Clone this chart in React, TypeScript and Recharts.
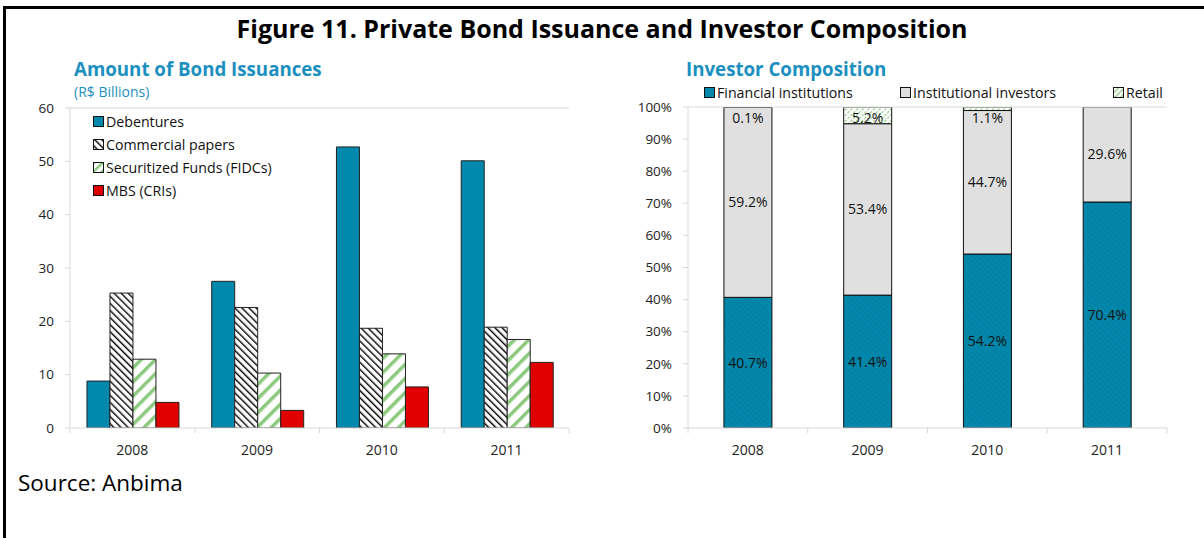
import React from 'react'
import { BarChart, Bar, XAxis, YAxis, Legend, ReferenceLine, LabelList } from 'recharts'

// Amount of bond issuances, R$ billions
const years = ['2008', '2009', '2010', '2011']
const debentures = [8.8, 27.5, 52.7, 50.1]
const commercialPapers = [25.3, 22.6, 18.7, 18.9]
const fidcs = [12.9, 10.3, 13.9, 16.6]
const mbs = [4.8, 3.3, 7.7, 12.3]
const issuanceTicks = [0, 10, 20, 30, 40, 50, 60]

// Investor composition, % of total
const financialInst = [40.7, 41.4, 54.2, 70.4]
const institutionalInv = [59.2, 53.4, 44.7, 29.6]
const retail = [0.1, 5.2, 1.1, 0.1]
const shareTicks = [0, 10, 20, 30, 40, 50, 60, 70, 80, 90, 100]

const FONT = '"Open Sans", "Noto Sans", sans-serif'
const TEAL = '#0088ad'
const TITLE_TEAL = '#1a8fc0'
const RED = '#e00000'
const GREEN = '#8cc97e'
const GRAY = '#e0e0e0'
const AXIS = '#d9d9d9'
const TEXT = '#222'

const issuanceData = years.map((y, i) => ({
  year: y,
  deb: debentures[i],
  cp: commercialPapers[i],
  fidc: fidcs[i],
  mbs: mbs[i],
}))

const shareData = years.map((y, i) => ({
  year: y,
  fin: financialInst[i],
  inst: institutionalInv[i],
  retail: retail[i],
}))

function CatTick(props: any) {
  const { x, y, payload, index, visibleTicksCount } = props
  const off = payload.offset || 0
  const last = index === visibleTicksCount - 1
  return (
    <g>
      <line x1={x - off} x2={x - off} y1={y} y2={y + 5} stroke={AXIS} />
      {last && <line x1={x + off} x2={x + off} y1={y} y2={y + 5} stroke={AXIS} />}
      <text x={x} y={y + 21} textAnchor="middle" dominantBaseline="central" fontSize={14} fill={TEXT} fontFamily={FONT}>
        {payload.value}
      </text>
    </g>
  )
}

const issuanceLegend = [
  { label: 'Debentures', fill: TEAL },
  { label: 'Commercial papers', fill: 'url(#cpHatch)' },
  { label: 'Securitized Funds (FIDCs)', fill: 'url(#fidcHatchSmall)' },
  { label: 'MBS (CRIs)', fill: RED },
]

function IssuanceLegend() {
  return (
    <div style={{ fontFamily: FONT, fontSize: 14.2, color: '#111' }}>
      {issuanceLegend.map(item => (
        <div key={item.label} style={{ display: 'flex', alignItems: 'center', height: 23 }}>
          <svg width={11} height={11} style={{ marginRight: 2 }}>
            <rect x={0.5} y={0.5} width={10} height={10} fill={item.fill} stroke="#111" />
          </svg>
          <span>{item.label}</span>
        </div>
      ))}
    </div>
  )
}

const shareLegend = [
  { label: 'Financial institutions', fill: TEAL, left: 104 },
  { label: 'Institutional investors', fill: GRAY, left: 300 },
  { label: 'Retail', fill: 'url(#retailHatchSmall)', left: 513 },
]

function ShareLegend() {
  return (
    <div style={{ position: 'relative', height: 20, width: 580, fontFamily: FONT, fontSize: 14.2, color: '#111' }}>
      {shareLegend.map(item => (
        <div key={item.label} style={{ position: 'absolute', left: item.left, top: 0, display: 'flex', alignItems: 'center', height: 20 }}>
          <svg width={11} height={11} style={{ marginRight: 2 }}>
            <rect x={0.5} y={0.5} width={10} height={10} fill={item.fill} stroke="#111" />
          </svg>
          <span>{item.label}</span>
        </div>
      ))}
    </div>
  )
}

function RetailLabel(props: any) {
  const { x, y, width, height, value } = props
  const cy = y + Math.max(height / 2, 10)
  return (
    <text x={x + width / 2} y={cy} textAnchor="middle" dominantBaseline="central" fontSize={14} fill="#111" fontFamily={FONT}>
      {Number(value).toFixed(1)}%
    </text>
  )
}

const pct = (v: any) => `${Number(v).toFixed(1)}%`

export default function App() {
  return (
    <div style={{ position: 'absolute', left: 0, top: 0, width: 1204, height: 538, background: '#fff', overflow: 'hidden', fontFamily: FONT }}>
      <svg width={0} height={0} style={{ position: 'absolute' }}>
        <defs>
          <pattern id="fidcHatchSmall" width="6" height="6" patternUnits="userSpaceOnUse" patternTransform="rotate(45)">
            <rect width="6" height="6" fill="#fff" />
            <rect width="2.5" height="6" fill={GREEN} />
          </pattern>
          <pattern id="retailHatchSmall" width="4" height="4" patternUnits="userSpaceOnUse" patternTransform="rotate(45)">
            <rect width="4" height="4" fill="#fff" />
            <rect width="1.2" height="4" fill={GREEN} />
          </pattern>
        </defs>
      </svg>

      <div style={{ position: 'absolute', left: 3, top: 6, width: 1201, height: 3, background: '#000' }} />
      <div style={{ position: 'absolute', left: 3, top: 6, width: 3, height: 532, background: '#000' }} />

      <div style={{ position: 'absolute', left: 0, top: 12, width: 1204, textAlign: 'center', fontSize: 25, fontWeight: 700, color: '#000', lineHeight: '32px' }}>
        Figure 11. Private Bond Issuance and Investor Composition
      </div>

      <div style={{ position: 'absolute', left: 74, top: 56, fontSize: 18.7, fontWeight: 700, color: TITLE_TEAL, lineHeight: '26px' }}>
        Amount of Bond Issuances
      </div>
      <div style={{ position: 'absolute', left: 74, top: 82, fontSize: 14, color: TITLE_TEAL, lineHeight: '20px' }}>
        (R$ Billions)
      </div>
      <div style={{ position: 'absolute', left: 686, top: 56, fontSize: 18.7, fontWeight: 700, color: TITLE_TEAL, lineHeight: '26px' }}>
        Investor Composition
      </div>

      <div style={{ position: 'absolute', left: 0, top: 60 }}>
        <BarChart width={580} height={400} data={issuanceData} margin={{ top: 48, right: 11, left: 0, bottom: 0 }}
          barCategoryGap="13.6%" barGap={0}>
          <defs>
            <pattern id="cpHatch" width="5" height="5" patternUnits="userSpaceOnUse" patternTransform="rotate(-45)">
              <rect width="5" height="5" fill="#fff" />
              <rect width="1.4" height="5" fill="#000" />
            </pattern>
            <pattern id="fidcHatch" width="10" height="10" patternUnits="userSpaceOnUse" patternTransform="rotate(45)">
              <rect width="10" height="10" fill="#fff" />
              <rect width="3.5" height="10" fill={GREEN} />
            </pattern>
          </defs>
          <XAxis dataKey="year" height={32} tickLine={false} tickSize={0} tickMargin={0}
            axisLine={{ stroke: AXIS }} tick={<CatTick />} interval={0} />
          <YAxis width={70} domain={[0, 60]} ticks={issuanceTicks} allowDataOverflow
            axisLine={{ stroke: AXIS }} tickLine={{ stroke: AXIS }} tickSize={5} tickMargin={11}
            tick={{ fontSize: 13.5, fill: TEXT, fontFamily: FONT }} />
          <ReferenceLine y={60} stroke={AXIS} />
          <Legend content={<IssuanceLegend />} layout="vertical" align="center" verticalAlign="middle"
            wrapperStyle={{ position: 'absolute', left: 93, top: 50, width: 'auto' }} />
          <Bar dataKey="deb" name="Debentures" fill={TEAL} stroke="#222" strokeWidth={1} isAnimationActive={false} />
          <Bar dataKey="cp" name="Commercial papers" fill="url(#cpHatch)" stroke="#222" strokeWidth={1} isAnimationActive={false} />
          <Bar dataKey="fidc" name="Securitized Funds (FIDCs)" fill="url(#fidcHatch)" stroke="#222" strokeWidth={1} isAnimationActive={false} />
          <Bar dataKey="mbs" name="MBS (CRIs)" fill={RED} stroke="#222" strokeWidth={1} isAnimationActive={false} />
        </BarChart>
      </div>

      <div style={{ position: 'absolute', left: 600, top: 60 }}>
        <BarChart width={580} height={400} data={shareData} margin={{ top: 47, right: 13, left: 0, bottom: 0 }}
          barCategoryGap="30%">
          <defs>
            <pattern id="finHatch" width="4" height="4" patternUnits="userSpaceOnUse" patternTransform="rotate(-45)">
              <rect width="4" height="4" fill={TEAL} />
              <rect width="1" height="4" fill="#0a7c9c" />
            </pattern>
            <pattern id="retailHatch" width="4" height="4" patternUnits="userSpaceOnUse" patternTransform="rotate(45)">
              <rect width="4" height="4" fill="#fff" />
              <rect width="1.2" height="2.5" fill={GREEN} />
            </pattern>
          </defs>
          <XAxis dataKey="year" height={32} tickLine={false} tickSize={0} tickMargin={0}
            axisLine={{ stroke: AXIS }} tick={<CatTick />} interval={0} />
          <YAxis width={88} domain={[0, 100]} ticks={shareTicks} allowDataOverflow
            tickFormatter={(v) => `${v}%`}
            axisLine={{ stroke: AXIS }} tickLine={{ stroke: AXIS }} tickSize={5} tickMargin={11}
            tick={{ fontSize: 13.5, fill: TEXT, fontFamily: FONT }} />
          <YAxis yAxisId="frame" orientation="right" width={0} tick={false} tickLine={false}
            axisLine={{ stroke: AXIS }} domain={[0, 100]} />
          <ReferenceLine y={100} stroke={AXIS} />
          <Legend content={<ShareLegend />} align="center" verticalAlign="middle"
            wrapperStyle={{ position: 'absolute', left: 0, top: 22, width: 580 }} />
          <Bar dataKey="fin" name="Financial institutions" stackId="s" fill="url(#finHatch)" stroke="#111" strokeWidth={1} isAnimationActive={false}>
            <LabelList dataKey="fin" position="center" formatter={pct} fontSize={14} fill="#111" fontFamily={FONT} />
          </Bar>
          <Bar dataKey="inst" name="Institutional investors" stackId="s" fill={GRAY} stroke="#111" strokeWidth={1} isAnimationActive={false}>
            <LabelList dataKey="inst" position="center" formatter={pct} fontSize={14} fill="#111" fontFamily={FONT} />
          </Bar>
          <Bar dataKey="retail" name="Retail" stackId="s" fill="url(#retailHatch)" stroke="#111" strokeWidth={1} isAnimationActive={false}>
            <LabelList dataKey="retail" content={<RetailLabel />} />
          </Bar>
        </BarChart>
      </div>

      <div style={{ position: 'absolute', left: 18, top: 468, fontSize: 22.5, color: '#000', lineHeight: '30px' }}>
        Source: Anbima
      </div>
    </div>
  )
}
